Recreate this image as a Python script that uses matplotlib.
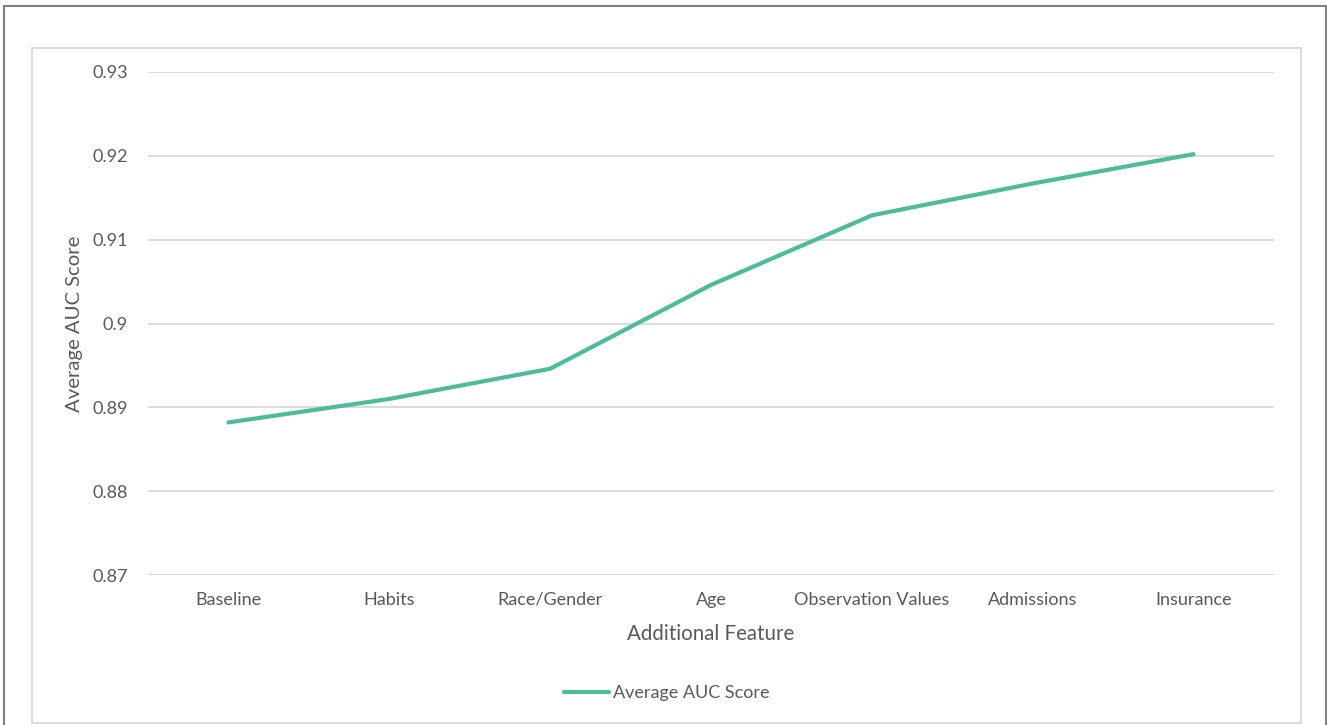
import matplotlib
matplotlib.use("Agg")
import matplotlib.pyplot as plt
from matplotlib.patches import Rectangle

# Feature sets added step by step and the mean AUC reached after each addition
features = ["Baseline", "Habits", "Race/Gender", "Age",
            "Observation Values", "Admissions", "Insurance"]
auc_scores = [0.8882, 0.8910, 0.8946, 0.9046, 0.9129, 0.9167, 0.9202]
y_ticks = [0.87, 0.88, 0.89, 0.90, 0.91, 0.92, 0.93]
y_tick_labels = ["0.87", "0.88", "0.89", "0.9", "0.91", "0.92", "0.93"]

W, H = 1327, 725
TEXT = "#595959"
GRID = "#d9d9d9"
LINE = "#4cbc9a"

plt.rcParams["font.family"] = ["Lato", "DejaVu Sans"]

fig = plt.figure(figsize=(W / 100, H / 100), dpi=100)
fig.patch.set_facecolor("white")

left, right, top, bottom = 148, 1274, 72, 575
ax = fig.add_axes([left / W, 1 - bottom / H, (right - left) / W, (bottom - top) / H])

x = list(range(len(features)))
ax.plot(x, auc_scores, color=LINE, lw=3.0, solid_capstyle="round",
        label="Average AUC Score", zorder=3)

ax.set_xlim(-0.5, len(features) - 0.5)
ax.set_ylim(0.87, 0.93)
ax.set_yticks(y_ticks)
ax.set_yticklabels(y_tick_labels)
ax.set_xticks(x)
ax.set_xticklabels(features)

ax.yaxis.grid(True, color=GRID, lw=1.3)
ax.set_axisbelow(True)
for s in ax.spines.values():
    s.set_visible(False)

ax.tick_params(axis="both", length=0, colors=TEXT, labelsize=13)
ax.tick_params(axis="y", pad=14.5)
ax.tick_params(axis="x", pad=12)

ax.set_xlabel("Additional Feature", color=TEXT, fontsize=14.8)
ax.set_ylabel("Average AUC Score", color=TEXT, fontsize=14.6)
ax.xaxis.set_label_coords(0.5, -0.097)
ax.yaxis.set_label_coords(-0.0577, 0.5)

fig.legend(loc="center", bbox_to_anchor=(666.5 / W, 1 - 693 / H),
           frameon=False, fontsize=13, handlelength=2.5,
           handletextpad=0.22, labelcolor=TEXT)

# chart area frame and outer border
fig.add_artist(Rectangle((32 / W, 1 - 723 / H), (1301 - 32) / W, (723 - 48) / H,
                         transform=fig.transFigure, fill=False,
                         edgecolor=GRID, lw=1.3, clip_on=False))
fig.add_artist(Rectangle((4 / W, -0.02), (1326 - 4) / W, 1 - 6 / H + 0.02,
                         transform=fig.transFigure, fill=False,
                         edgecolor="#7f7f7f", lw=1.5, clip_on=False))

fig.savefig("out.png", dpi=100, facecolor="white")
